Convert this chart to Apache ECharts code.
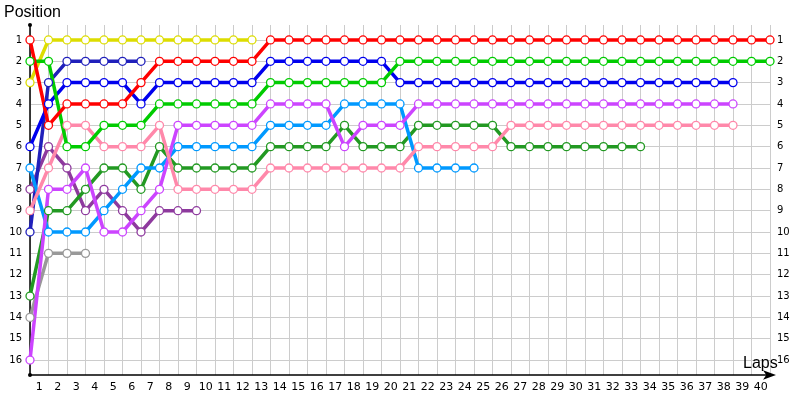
<!DOCTYPE html>
<html>
<head>
<meta charset="utf-8">
<script src="https://cdn.jsdelivr.net/npm/echarts@6/dist/echarts.min.js"></script>
<style>html,body{margin:0;padding:0;background:#fff;}#c{width:800px;height:400px;}</style>
</head>
<body>
<div id="c"></div>
<script>
// Lap labels (x axis) and position labels (y axis)
var lapLabels = [];
for (var k = 1; k <= 40; k++) lapLabels.push(String(k));
var positionTicks = [1,2,3,4,5,6,7,8,9,10,11,12,13,14,15,16];

// Positions per lap, starting at lap 0 (grid)
var redCar       = [1,5,4,4,4,4,3,2,2,2,2,2,2,1,1,1,1,1,1,1,1,1,1,1,1,1,1,1,1,1,1,1,1,1,1,1,1,1,1,1,1];
var yellowCar    = [3,1,1,1,1,1,1,1,1,1,1,1,1];
var greenCar     = [2,2,6,6,5,5,5,4,4,4,4,4,4,3,3,3,3,3,3,3,2,2,2,2,2,2,2,2,2,2,2,2,2,2,2,2,2,2,2,2,2];
var blueCar      = [6,4,3,3,3,3,4,3,3,3,3,3,3,2,2,2,2,2,2,2,3,3,3,3,3,3,3,3,3,3,3,3,3,3,3,3,3,3,3];
var navyCar      = [10,3,2,2,2,2,2];
var pinkCar      = [9,7,5,5,6,6,6,5,8,8,8,8,8,7,7,7,7,7,7,7,7,6,6,6,6,6,5,5,5,5,5,5,5,5,5,5,5,5,5];
var skyCar       = [7,10,10,10,9,8,7,7,6,6,6,6,6,5,5,5,5,4,4,4,4,7,7,7,7];
var plumCar      = [8,6,7,9,8,9,10,9,9,9];
var violetCar    = [16,8,8,7,10,10,9,8,5,5,5,5,5,4,4,4,4,6,5,5,5,4,4,4,4,4,4,4,4,4,4,4,4,4,4,4,4,4,4];
var forestCar    = [13,9,9,8,7,7,8,6,7,7,7,7,7,6,6,6,6,5,6,6,6,5,5,5,5,5,6,6,6,6,6,6,6,6];
var greyCar      = [14,11,11,11];

var cars = [
  {v: greyCar,   c: '#999999'},
  {v: plumCar,   c: '#8e3a9e'},
  {v: navyCar,   c: '#2020bb'},
  {v: forestCar, c: '#229922'},
  {v: skyCar,    c: '#0099ff'},
  {v: violetCar, c: '#cc44ff'},
  {v: pinkCar,   c: '#ff88aa'},
  {v: yellowCar, c: '#dddd00'},
  {v: blueCar,   c: '#0000ee'},
  {v: greenCar,  c: '#00cc00'},
  {v: redCar,    c: '#ff0000'}
];

var series = cars.map(function (car) {
  return {
    type: 'line',
    xAxisIndex: 1,
    yAxisIndex: 0,
    data: car.v.map(function (p, i) { return [i, p]; }),
    symbol: 'circle',
    symbolSize: 8,
    lineStyle: {color: car.c, width: 3.5},
    itemStyle: {color: '#ffffff', borderColor: car.c, borderWidth: 1.3},
    emphasis: {disabled: true},
    silent: true,
    animation: false
  };
});

var labelStyle = {color: '#000', fontSize: 10, fontFamily: 'DejaVu Sans'};
var chart = echarts.init(document.getElementById('c'), null, {renderer: 'canvas'});
chart.setOption({
  animation: false,
  title: [
    {text: 'Position', left: 4, top: 5, padding: 0, textStyle: {fontSize: 16, fontWeight: 'normal', color: '#000', fontFamily: 'Liberation Sans'}},
    {text: 'Laps', left: 743, top: 356, padding: 0, textStyle: {fontSize: 16, fontWeight: 'normal', color: '#000', fontFamily: 'Liberation Sans'}}
  ],
  grid: [
    {left: 30, right: 30, top: 25, bottom: 25},
    {left: 30, right: 30, top: 40 - 64/3, bottom: 40 - 64/3}
  ],
  xAxis: [
    {
      type: 'category', gridIndex: 0, data: lapLabels, boundaryGap: true,
      axisLine: {show: true, lineStyle: {color: '#000', width: 1.5}, symbol: ['none', 'arrow'], symbolSize: [7, 13], symbolOffset: [0, 6]},
      axisTick: {show: false},
      axisLabel: {color: '#000', fontSize: 11, fontFamily: 'DejaVu Sans', margin: 7, interval: 0},
      splitLine: {show: true, lineStyle: {color: '#cccccc', width: 1}}
    },
    {type: 'value', gridIndex: 0, min: 0, max: 40, show: false},
    {type: 'value', gridIndex: 1, min: 0, max: 40, show: false}
  ],
  yAxis: [
    {
      type: 'value', gridIndex: 0, min: 0.3, max: 16.7, inverse: true,
      axisLine: {show: true, lineStyle: {color: '#000', width: 1.5}, symbol: ['circle', 'circle'], symbolSize: [4, 4]},
      axisTick: {show: false}, axisLabel: {show: false}, splitLine: {show: false}
    },
    {
      type: 'value', gridIndex: 1, min: 0, max: 17, interval: 1, inverse: true, position: 'left',
      axisLine: {show: false}, axisTick: {show: false},
      axisLabel: Object.assign({margin: 8, formatter: function (v) { return positionTicks.indexOf(v) >= 0 ? String(v) : ''; }}, labelStyle),
      splitLine: {show: true, showMinLine: false, showMaxLine: false, lineStyle: {color: '#cccccc', width: 1}}
    },
    {
      type: 'value', gridIndex: 1, min: 0, max: 17, interval: 1, inverse: true, position: 'right',
      axisLine: {show: false}, axisTick: {show: false},
      axisLabel: Object.assign({margin: 7, formatter: function (v) { return positionTicks.indexOf(v) >= 0 ? String(v) : ''; }}, labelStyle),
      splitLine: {show: false}
    }
  ],
  series: series
});
</script>
</body>
</html>
